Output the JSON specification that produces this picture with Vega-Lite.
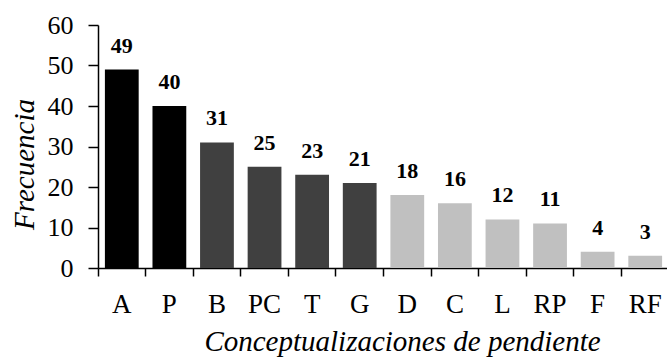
{
  "$schema": "https://vega.github.io/schema/vega-lite/v6.json",
  "autosize": {"type": "none"},
  "padding": {"left": 98, "top": 25, "right": 0, "bottom": 89},
  "width": 571,
  "height": 243,
  "background": "white",
  "config": {
    "view": {"stroke": null},
    "font": "Times New Roman, Liberation Serif, serif",
    "axis": {
      "grid": false,
      "domainColor": "black",
      "domainWidth": 1.5,
      "tickColor": "black",
      "tickWidth": 1.5,
      "labelColor": "black",
      "titleColor": "black",
      "labelFont": "Times New Roman, Liberation Serif, serif",
      "titleFont": "Times New Roman, Liberation Serif, serif"
    }
  },
  "data": {
    "values": [
      {"cat": "A", "freq": 49, "grupo": "g1"},
      {"cat": "P", "freq": 40, "grupo": "g1"},
      {"cat": "B", "freq": 31, "grupo": "g2"},
      {"cat": "PC", "freq": 25, "grupo": "g2"},
      {"cat": "T", "freq": 23, "grupo": "g2"},
      {"cat": "G", "freq": 21, "grupo": "g2"},
      {"cat": "D", "freq": 18, "grupo": "g3"},
      {"cat": "C", "freq": 16, "grupo": "g3"},
      {"cat": "L", "freq": 12, "grupo": "g3"},
      {"cat": "RP", "freq": 11, "grupo": "g3"},
      {"cat": "F", "freq": 4, "grupo": "g3"},
      {"cat": "RF", "freq": 3, "grupo": "g3"}
    ]
  },
  "encoding": {
    "x": {
      "field": "cat",
      "type": "nominal",
      "sort": null,
      "scale": {"paddingInner": 0, "paddingOuter": 0},
      "axis": {
        "title": "Conceptualizaciones de pendiente",
        "labelAngle": 0,
        "labelFontSize": 27,
        "labelBaseline": "alphabetic",
        "tickSize": 8,
        "labelPadding": 36,
        "bandPosition": 0,
        "titleFontSize": 29,
        "titleFontStyle": "italic",
        "titleFontWeight": "normal",
        "titleBaseline": "alphabetic",
        "titleX": 304,
        "titleY": 82,
        "titleAnchor": "middle",
        "titleAlign": "center"
      }
    },
    "y": {
      "field": "freq",
      "type": "quantitative",
      "scale": {"domain": [0, 60], "nice": false},
      "axis": {
        "title": "Frecuencia",
        "values": [0, 10, 20, 30, 40, 50, 60],
        "labelFontSize": 26,
        "tickSize": 10,
        "labelPadding": 15,
        "titleFontSize": 29,
        "titleFontStyle": "italic",
        "titleFontWeight": "normal",
        "titleAngle": -90,
        "titleBaseline": "alphabetic",
        "titleAlign": "center",
        "titleX": -65,
        "titleY": 139
      }
    }
  },
  "layer": [
    {
      "mark": {"type": "bar", "width": {"band": 0.71}},
      "encoding": {
        "color": {
          "field": "grupo",
          "type": "nominal",
          "scale": {"domain": ["g1", "g2", "g3"], "range": ["#000000", "#404040", "#c0c0c0"]},
          "legend": null
        }
      }
    },
    {
      "mark": {"type": "text", "fontWeight": "bold", "fontSize": 22, "baseline": "alphabetic", "dy": -17, "color": "black", "font": "Times New Roman, Liberation Serif, serif"},
      "encoding": {"text": {"field": "freq", "type": "quantitative"}}
    }
  ]
}
